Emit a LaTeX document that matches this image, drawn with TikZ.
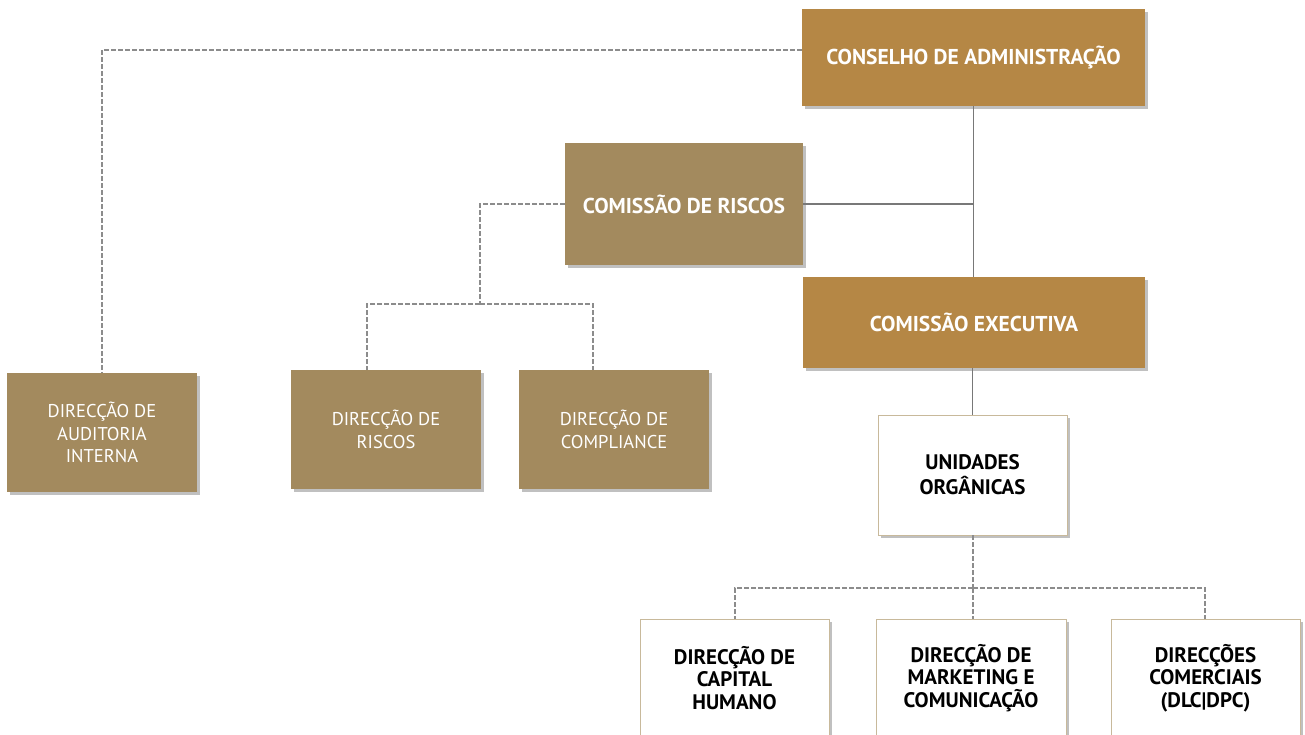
\documentclass[tikz,border=0pt]{standalone}
\usepackage{fontspec}
\setmainfont{PT Sans}
\usetikzlibrary{shadows}
\definecolor{gold}{RGB}{181,135,69}
\definecolor{tanc}{RGB}{163,138,94}
\definecolor{lineg}{RGB}{120,120,120}
\definecolor{dashg}{RGB}{140,140,140}
\definecolor{bord}{RGB}{200,185,155}
\begin{document}
\begin{tikzpicture}[x=1pt,y=-1pt,
  box/.style={rectangle, inner sep=2pt, align=center,
    drop shadow={shadow xshift=3pt,shadow yshift=-3pt,opacity=0.35,fill=black!70}},
  goldbox/.style={box, fill=gold, text=white, font=\bfseries\fontsize{21.5}{24}\selectfont},
  tanbig/.style={box, fill=tanc, text=white, font=\bfseries\fontsize{21.5}{24}\selectfont},
  tansmall/.style={box, fill=tanc, text=white, minimum width=190pt, minimum height=119pt, font=\fontsize{18.5}{22.5}\selectfont},
  whitebox/.style={box, fill=white, draw=bord, line width=0.8pt, text=black, font=\bfseries\fontsize{21}{22.5}\selectfont},
  solidline/.style={draw=lineg, line width=1.6pt},
  dashline/.style={draw=dashg, line width=1.6pt, dash pattern=on 5pt off 2pt}
]
\useasboundingbox (0,0) rectangle (1305,735);
\clip (0,0) rectangle (1305,735);
\fill[white] (0,0) rectangle (1305,735);

% nodes
\node[goldbox, minimum width=343pt, minimum height=97pt] (ca) at (973.5,57.5) {CONSELHO DE ADMINISTRAÇÃO};
\node[tanbig, minimum width=238pt, minimum height=122pt] (cr) at (684,204) {COMISSÃO DE RISCOS};
\node[goldbox, minimum width=342pt, minimum height=91pt] (ce) at (974,322.5) {COMISSÃO EXECUTIVA};
\node[whitebox, minimum width=189pt, minimum height=120pt, font=\bfseries\fontsize{21}{25}\selectfont] (uo) at (972.5,475) {UNIDADES\\ORGÂNICAS};
\node[tansmall] (dai) at (102,432.5) {DIRECÇÃO DE\\AUDITORIA\\INTERNA};
\node[tansmall] (dr) at (386,429.5) {DIRECÇÃO DE\\RISCOS};
\node[tansmall] (dc) at (614,429.5) {DIRECÇÃO DE\\COMPLIANCE};
\node[whitebox, minimum width=189pt, minimum height=118pt] (dch) at (734.5,678) {DIRECÇÃO DE\\CAPITAL\\HUMANO};
\node[whitebox, minimum width=190pt, minimum height=118pt] (dmc) at (971,678) {DIRECÇÃO DE\\MARKETING E\\COMUNICAÇÃO};
\node[whitebox, minimum width=189pt, minimum height=118pt] (dco) at (1205.5,678) {DIRECÇÕES\\COMERCIAIS\\(DLC|DPC)};

% solid connectors
\draw[solidline] (ca.south) -- (ca.south |- ce.north);
\draw[solidline] (cr.east) -- (cr.east -| ca.south);
\draw[solidline] (ce.south -| uo.north) -- (uo.north);

% dashed connectors
\draw[dashline] ([yshift=7.5pt]ca.west) -| (dai.north);
\coordinate (rf) at (480,304);
\draw[dashline] (cr.west) -| (rf);
\draw[dashline] (rf) -| ([xshift=-19pt]dr.north);
\draw[dashline] (rf) -| ([xshift=-21pt]dc.north);
\coordinate (uf) at (973,588);
\draw[dashline] ([xshift=0.5pt]uo.south) -- (uf);
\draw[dashline] (uf) -| ([xshift=0.5pt]dch.north);
\draw[dashline] (uf) -- ([xshift=2pt]dmc.north);
\draw[dashline] (uf) -| ([xshift=-0.5pt]dco.north);
\end{tikzpicture}
\end{document}
